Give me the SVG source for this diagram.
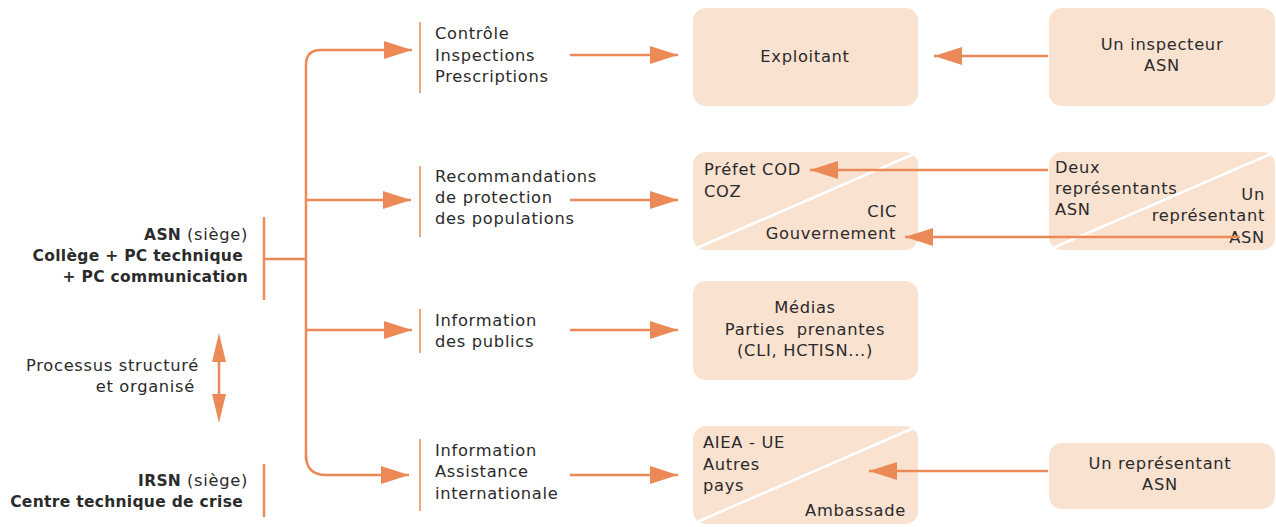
<svg xmlns="http://www.w3.org/2000/svg" width="1276" height="527" viewBox="0 0 1276 527">
<style>
text{font-family:"DejaVu Sans","Open Sans","Liberation Sans",sans-serif;font-size:16.3px;letter-spacing:0.7px;fill:#2b2b2b}
.b{font-weight:700;font-size:15.5px;letter-spacing:0.3px}
.m{text-anchor:middle}
.e{text-anchor:end}
.pre{white-space:pre}
.box{fill:#fae2d1}
.diag{stroke:#ffffff;stroke-width:2.5}
.ln{stroke:#eb8a57;stroke-width:2.5;fill:none}
.bar{stroke:#eb8a57;stroke-width:1.5}
.bk{stroke:#eb8a57;stroke-width:2.5}
.ah{fill:#eb8a57}
</style>
<defs>
<marker id="arr" viewBox="0 0 28 18" refX="28" refY="9" markerWidth="28" markerHeight="18" markerUnits="userSpaceOnUse" orient="auto">
<path d="M0,0 L28,9 L0,18 Z" class="ah"/>
</marker>
</defs>

<g id="asn">
<line class="bk" x1="264" y1="217" x2="264" y2="300"/>
<text x="248" y="240" class="e"><tspan class="b">ASN</tspan> (siège)</text>
<text x="243" y="261" class="e b">Collège + PC technique</text>
<text x="248" y="282" class="e b">+ PC communication</text>
</g>

<g id="processus">
<text x="199" y="371" class="e">Processus structuré</text>
<text x="195" y="392" class="e">et organisé</text>
</g>

<g id="irsn">
<line class="bk" x1="264" y1="464" x2="264" y2="517"/>
<text x="248" y="486" class="e"><tspan class="b">IRSN</tspan> (siège)</text>
<text x="243" y="507" class="e b">Centre technique de crise</text>
</g>

<g id="controle">
<line class="bar" x1="420" y1="22" x2="420" y2="93"/>
<text x="435" y="39">Contrôle</text>
<text x="435" y="61">Inspections</text>
<text x="435" y="82">Prescriptions</text>
</g>

<g id="recommandations">
<line class="bar" x1="420" y1="166" x2="420" y2="237"/>
<text x="435" y="182">Recommandations</text>
<text x="435" y="203">de protection</text>
<text x="435" y="224">des populations</text>
</g>

<g id="information-publics">
<line class="bar" x1="420" y1="309" x2="420" y2="353"/>
<text x="435" y="326">Information</text>
<text x="435" y="347">des publics</text>
</g>

<g id="information-internationale">
<line class="bar" x1="420" y1="439" x2="420" y2="511"/>
<text x="435" y="456">Information</text>
<text x="435" y="477">Assistance</text>
<text x="435" y="499">internationale</text>
</g>

<g id="exploitant">
<rect class="box" x="693" y="8" width="225" height="98" rx="13"/>
<text x="805" y="62" class="m">Exploitant</text>
</g>

<g id="inspecteur">
<rect class="box" x="1049" y="8" width="226" height="98" rx="13"/>
<text x="1162" y="50" class="m">Un inspecteur</text>
<text x="1162" y="71" class="m">ASN</text>
</g>

<g id="prefet">
<rect class="box" x="693" y="152" width="225" height="98" rx="13"/>
<line class="diag" x1="697" y1="248" x2="916" y2="153"/>
<text x="704" y="175">Préfet COD</text>
<text x="704" y="197">COZ</text>
<text x="897" y="217" class="e">CIC</text>
<text x="896" y="239" class="e">Gouvernement</text>
</g>

<g id="representants">
<rect class="box" x="1049" y="152" width="226" height="98" rx="13"/>
<line class="diag" x1="1053" y1="248" x2="1273" y2="153"/>
<text x="1055" y="173">Deux</text>
<text x="1055" y="194">représentants</text>
<text x="1055" y="215">ASN</text>
<text x="1265" y="200" class="e">Un</text>
<text x="1265" y="221" class="e">représentant</text>
<text x="1265" y="243" class="e">ASN</text>
</g>

<g id="medias">
<rect class="box" x="693" y="281" width="225" height="99" rx="13"/>
<text x="805" y="313" class="m">Médias</text>
<text x="805" y="335" class="m pre">Parties  prenantes</text>
<text x="805" y="356" class="m">(CLI, HCTISN...)</text>
</g>

<g id="aiea">
<rect class="box" x="693" y="426" width="225" height="98" rx="13"/>
<line class="diag" x1="697" y1="522" x2="916" y2="427"/>
<text x="703" y="448">AIEA - UE</text>
<text x="703" y="470">Autres</text>
<text x="703" y="491">pays</text>
<text x="906" y="516" class="e">Ambassade</text>
</g>

<g id="representant-ambassade">
<rect class="box" x="1049" y="443" width="226" height="66" rx="13"/>
<text x="1160" y="469" class="m">Un représentant</text>
<text x="1160" y="490" class="m">ASN</text>
</g>

<g id="connectors">
<path class="ln" d="M306,460 L306,65 Q306,50 321,50 L412,50" marker-end="url(#arr)"/>
<line class="ln" x1="306" y1="200" x2="411" y2="200" marker-end="url(#arr)"/>
<line class="ln" x1="306" y1="330" x2="412" y2="330" marker-end="url(#arr)"/>
<path class="ln" d="M306,455 Q306,475 326,475 L409,475" marker-end="url(#arr)"/>
<line class="ln" x1="264" y1="259" x2="306" y2="259"/>
<line class="ln" x1="570" y1="55" x2="678" y2="55" marker-end="url(#arr)"/>
<line class="ln" x1="570" y1="200" x2="678" y2="200" marker-end="url(#arr)"/>
<line class="ln" x1="570" y1="330" x2="678" y2="330" marker-end="url(#arr)"/>
<line class="ln" x1="570" y1="475" x2="678" y2="475" marker-end="url(#arr)"/>
<line class="ln" x1="1048" y1="56" x2="934" y2="56" marker-end="url(#arr)"/>
<line class="ln" x1="1048" y1="170" x2="810" y2="170" marker-end="url(#arr)"/>
<line class="ln" x1="1240" y1="237" x2="905" y2="237" marker-end="url(#arr)"/>
<line class="ln" x1="1048" y1="471" x2="869" y2="471" marker-end="url(#arr)"/>
<line class="ln" x1="219" y1="345" x2="219" y2="411"/>
<path class="ah" d="M219,333 L226,362 L212,362 Z"/>
<path class="ah" d="M219,423 L226,394 L212,394 Z"/>
</g>
</svg>
